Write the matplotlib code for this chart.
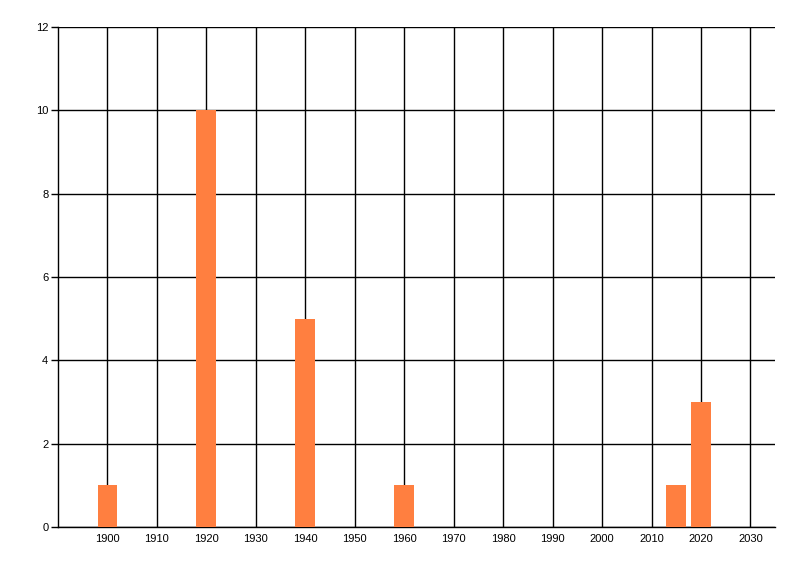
import matplotlib
matplotlib.use("Agg")
import matplotlib.pyplot as plt

years = [1900, 1920, 1940, 1960, 2015, 2020]
counts = [1, 10, 5, 1, 1, 3]
xticks = list(range(1900, 2031, 10))
yticks = [0, 2, 4, 6, 8, 10, 12]

plt.rcParams['font.family'] = ['Liberation Sans', 'DejaVu Sans']

fig = plt.figure(figsize=(8, 5.76), dpi=100)
ax = fig.add_axes([0.0725, 0.085, 0.8965, 0.868])

ax.bar(years, counts, width=4.0, color='#ff7f40', zorder=3)

ax.set_xlim(1890, 2035)
ax.set_ylim(0, 12)
ax.set_xticks(xticks)
ax.set_yticks(yticks)
ax.grid(True, color='black', linewidth=1, zorder=0)
ax.set_axisbelow(True)

for s in ['top', 'right']:
    ax.spines[s].set_visible(False)
ax.spines['left'].set_linewidth(1)
ax.spines['bottom'].set_linewidth(1)

ax.tick_params(axis='x', length=0, labelsize=8, pad=5)
ax.tick_params(axis='y', length=5, width=1, labelsize=8, pad=2)

plt.savefig('out.png', dpi=100)
